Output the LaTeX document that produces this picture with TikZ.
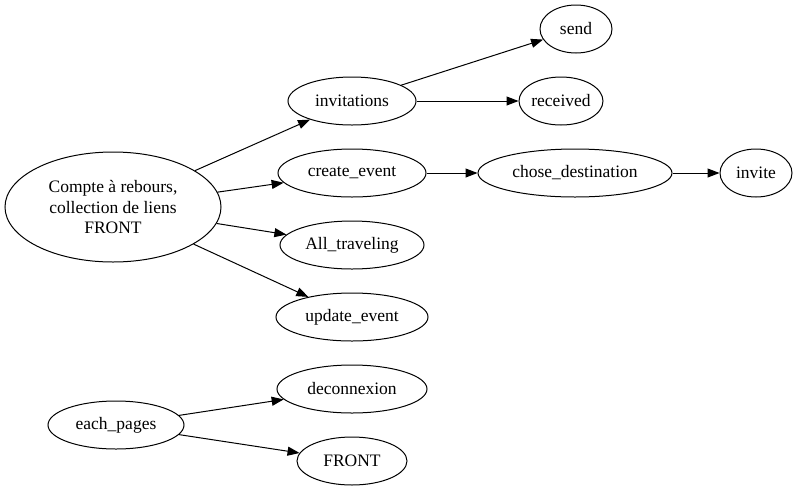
\documentclass[tikz,border=0pt]{standalone}
\usepackage{fontspec}
\setmainfont{Liberation Serif}
\usetikzlibrary{shapes.geometric,arrows.meta}
\begin{document}
\begin{tikzpicture}[x=1pt,y=-1pt,
  el/.style={draw,ellipse,inner sep=0pt,line width=1pt,minimum height=48pt,font=\fontsize{17.5}{20.5}\selectfont,align=center},
  arr/.style={-{Triangle[length=12pt,width=9pt]},line width=1pt}]
\useasboundingbox (0,0) rectangle (809,491);
\node[el,minimum width=216pt,minimum height=110pt] (main) at (113,207) {Compte à rebours,\\collection de liens\\FRONT};
\node[el,minimum width=128pt] (inv) at (352,101) {invitations};
\node[el,minimum width=72pt] (send) at (576,29) {send};
\node[el,minimum width=84pt] (rec) at (561,101) {received};
\node[el,minimum width=148pt] (ce) at (352,173) {create\_event};
\node[el,minimum width=194pt] (cd) at (575,173) {chose\_destination};
\node[el,minimum width=72pt] (invite) at (756,173) {invite};
\node[el,minimum width=144pt] (at) at (352,245) {All\_traveling};
\node[el,minimum width=152pt] (ue) at (352,317) {update\_event};
\node[el,minimum width=136pt] (ep) at (116,425) {each\_pages};
\node[el,minimum width=150pt] (dec) at (352,389) {deconnexion};
\node[el,minimum width=110pt] (fr) at (352,461) {FRONT};
\draw[arr] (main) -- (inv);
\draw[arr] (main) -- (ce);
\draw[arr] (main) -- (at);
\draw[arr] (main) -- (ue);
\draw[arr] (inv) -- (send);
\draw[arr] (inv) -- (rec);
\draw[arr] (ce) -- (cd);
\draw[arr] (cd) -- (invite);
\draw[arr] (ep) -- (dec);
\draw[arr] (ep) -- (fr);
\end{tikzpicture}
\end{document}
